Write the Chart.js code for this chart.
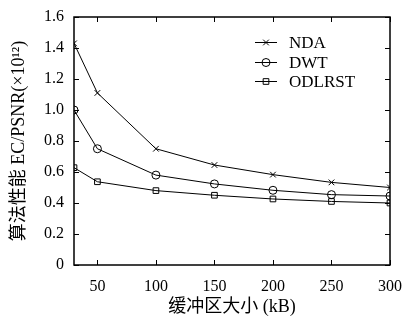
<!DOCTYPE html>
<html>
<head>
<meta charset="utf-8">
<script src="https://cdn.jsdelivr.net/npm/chart.js@4"></script>
<style>
  html, body { margin: 0; padding: 0; background: #fff; }
  #wrap { width: 405px; height: 326px; }
</style>
</head>
<body>
<div id="wrap"><canvas id="chart" width="405" height="326"></canvas></div>
<script>
const bufferSizes = [30, 50, 100, 150, 200, 250, 300];
const xTicks = [50, 100, 150, 200, 250, 300];
const ndaValues = [1.43, 1.11, 0.75, 0.645, 0.583, 0.533, 0.50];
const dwtValues = [1.0, 0.75, 0.58, 0.523, 0.482, 0.454, 0.445];
const odlrstValues = [0.628, 0.537, 0.48, 0.45, 0.426, 0.41, 0.40];

const serif = '"Liberation Serif", "DejaVu Serif", "Noto Sans CJK SC", serif';

function toPoints(vals) {
    return vals.map((v, i) => ({ x: bufferSizes[i], y: v }));
}

// box, inside ticks on all four sides, and a line+marker legend
const framePlugin = {
    id: "frame",
    afterDatasetsDraw(chart) {
        const ctx = chart.ctx;
        const a = chart.chartArea;
        const xs = chart.scales.x, ys = chart.scales.y;
        ctx.save();
        ctx.strokeStyle = "#000";
        ctx.lineWidth = 1.5;
        ctx.strokeRect(a.left, a.top, a.right - a.left, a.bottom - a.top);
        ctx.lineWidth = 1;
        ctx.beginPath();
        xTicks.forEach(t => {
            const px = Math.round(xs.getPixelForValue(t)) + 0.5;
            ctx.moveTo(px, a.bottom); ctx.lineTo(px, a.bottom - 5);
            ctx.moveTo(px, a.top); ctx.lineTo(px, a.top + 5);
        });
        ys.ticks.forEach(t => {
            const py = Math.round(ys.getPixelForValue(t.value)) + 0.5;
            ctx.moveTo(a.left, py); ctx.lineTo(a.left + 5, py);
            ctx.moveTo(a.right, py); ctx.lineTo(a.right - 5, py);
        });
        ctx.stroke();

        // legend
        const lx = 255, ly = a.top + 25, gap = 19.5;
        ctx.font = "17px " + serif;
        ctx.textBaseline = "middle";
        chart.data.datasets.forEach((ds, i) => {
            const y = Math.round(ly + i * gap) + 0.5;
            ctx.beginPath();
            ctx.moveTo(lx, y); ctx.lineTo(lx + 22, y);
            ctx.stroke();
            ctx.fillStyle = "rgba(0,0,0,0)";
            Chart.helpers.drawPoint(ctx, {
                pointStyle: ds.pointStyle, radius: 4, rotation: 0, borderWidth: 1
            }, lx + 11, y);
            ctx.fillStyle = "#000";
            ctx.fillText(ds.label, lx + 34, y + 1);
        });
        ctx.restore();
    }
};

const lineStyle = {
    borderColor: "#000",
    borderWidth: 1,
    pointBorderColor: "#000",
    pointBackgroundColor: "rgba(0,0,0,0)",
    pointRadius: 4,
    pointBorderWidth: 1,
    tension: 0
};

new Chart(document.getElementById("chart").getContext("2d"), {
    type: "line",
    data: {
        datasets: [
            Object.assign({ label: "NDA", data: toPoints(ndaValues), pointStyle: "crossRot" }, lineStyle),
            Object.assign({ label: "DWT", data: toPoints(dwtValues), pointStyle: "circle" }, lineStyle),
            Object.assign({ label: "ODLRST", data: toPoints(odlrstValues), pointStyle: "rect" }, lineStyle)
        ]
    },
    options: {
        responsive: false,
        animation: false,
        layout: { padding: { left: 4, right: 15, top: 17, bottom: 4 } },
        plugins: { legend: { display: false }, tooltip: { enabled: false } },
        scales: {
            x: {
                type: "linear",
                min: 30,
                max: 300,
                afterBuildTicks: s => { s.ticks = xTicks.map(v => ({ value: v })); },
                afterFit: s => { s.height = 57; s.paddingLeft = 0; s.paddingRight = 0; },
                grid: { display: false, drawTicks: false },
                border: { display: false },
                ticks: { color: "#000", padding: 12, font: { family: serif, size: 16 } },
                title: {
                    display: true, text: "缓冲区大小 (kB)", color: "#000",
                    font: { family: serif, size: 18 }, padding: { top: 4 }
                }
            },
            y: {
                min: 0,
                max: 1.6,
                afterFit: s => { s.width = 70; s.paddingTop = 0; s.paddingBottom = 0; },
                grid: { display: false, drawTicks: false },
                border: { display: false },
                ticks: { stepSize: 0.2, color: "#000", padding: 10, font: { family: serif, size: 16 } },
                title: {
                    display: true, text: "算法性能 EC/PSNR(×10¹²)", color: "#000",
                    font: { family: serif, size: 18 }, padding: { bottom: 2 }
                }
            }
        }
    },
    plugins: [framePlugin]
});
</script>
</body>
</html>
